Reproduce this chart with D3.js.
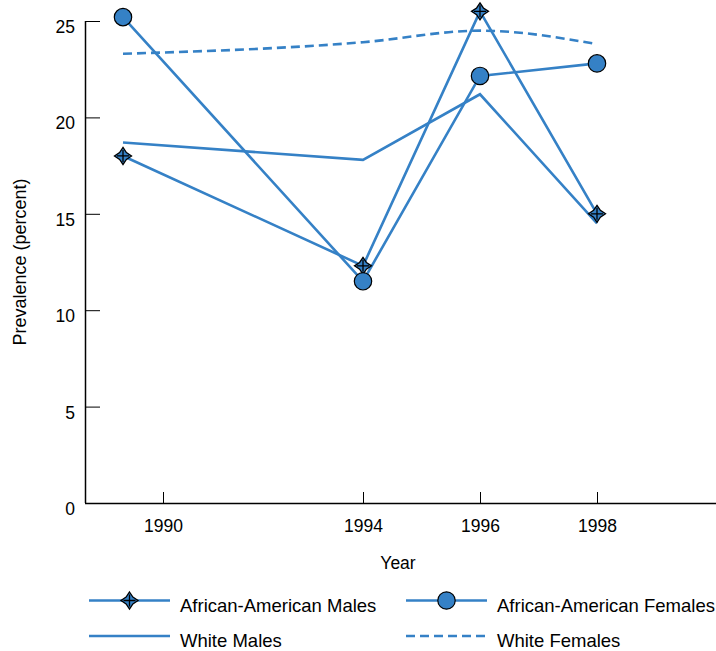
<!DOCTYPE html>
<html>
<head>
<meta charset="utf-8">
<script src="https://cdn.jsdelivr.net/npm/d3@7"></script>
<style>
  html, body { margin: 0; padding: 0; background: #fff; }
  svg { display: block; font-family: "Liberation Sans", Arial, sans-serif; }
</style>
</head>
<body>
<svg id="chart" width="716" height="651"></svg>
<script>
// ---- data ----
const years = [1990, 1994, 1996, 1998];
const xTickYears = [1990, 1994, 1996, 1998];
const yTicks = [0, 5, 10, 15, 20, 25];
const aaMales = [18.0, 12.3, 25.5, 15.0];
const aaFemales = [25.2, 11.5, 22.15, 22.8];
const whiteMales = [18.7, 17.8, 21.2, 14.5];
const whiteFemales = [23.3, 23.9, 24.5, 23.8];
const seriesNames = ["African-American Males", "African-American Females", "White Males", "White Females"];

(function () {
const color = "#3581c6";
const svg = d3.select("#chart");
const mLeft = 85, mRight = 716, mTop = 21, mBottom = 503;

// y scale
const y = d3.scaleLinear().domain([0, 25]).range([mBottom, mTop]);
// x scales: data positions and axis tick positions (the axis tick for 1990 sits right of the first point)
const x = d3.scaleLinear().domain([1990, 1994, 1998]).range([123, 363, 597]);
const xAxisScale = d3.scaleLinear().domain([1990, 1994, 1998]).range([163, 363, 597]);

// ---- axes ----
const yAxis = d3.axisLeft(y).tickValues(yTicks).tickSizeInner(-15).tickSizeOuter(0).tickPadding(10)
  .tickFormat(d3.format("d"));
const gy = svg.append("g").attr("transform", `translate(${mLeft},0)`).call(yAxis);
gy.select(".domain").remove();
gy.selectAll(".tick line").attr("stroke", "#000").attr("stroke-width", 1);
gy.selectAll("text").attr("font-size", 17.5).attr("fill", "#000").attr("dy", "0.66em")
  .attr("font-family", "Liberation Sans, Arial, sans-serif");

const xAxis = d3.axisBottom(xAxisScale).tickValues(xTickYears).tickSizeInner(-11).tickSizeOuter(0).tickPadding(17)
  .tickFormat(d3.format("d"));
const gx = svg.append("g").attr("transform", `translate(0,${mBottom})`).call(xAxis);
gx.select(".domain").remove();
gx.selectAll(".tick line").attr("stroke", "#000").attr("stroke-width", 1);
gx.selectAll("text").attr("font-size", 17.5).attr("fill", "#000")
  .attr("font-family", "Liberation Sans, Arial, sans-serif");

// axis lines
svg.append("line").attr("x1", mLeft + 0.5).attr("x2", mLeft + 0.5).attr("y1", y(25)).attr("y2", y(0))
  .attr("stroke", "#000").attr("stroke-width", 1.5);
svg.append("line").attr("x1", mLeft).attr("x2", mRight).attr("y1", y(0) + 0.5).attr("y2", y(0) + 0.5)
  .attr("stroke", "#000").attr("stroke-width", 1.5);

// axis titles
svg.append("text").attr("x", 398).attr("y", 569).attr("text-anchor", "middle")
  .attr("font-size", 17.5).text("Year");
svg.append("text").attr("transform", `translate(26,${(y(25) + y(0)) / 2}) rotate(-90)`)
  .attr("text-anchor", "middle").attr("font-size", 18).text("Prevalence (percent)");

// ---- lines ----
const lineStraight = d3.line().x((d, i) => x(years[i])).y(d => y(d));
const lineCurve = d3.line().x((d, i) => x(years[i])).y(d => y(d)).curve(d3.curveMonotoneX);

const series = [
  { name: seriesNames[0], values: aaMales, marker: "star", dash: null, gen: lineStraight },
  { name: seriesNames[1], values: aaFemales, marker: "circle", dash: null, gen: lineStraight },
  { name: seriesNames[2], values: whiteMales, marker: null, dash: null, gen: lineStraight },
  { name: seriesNames[3], values: whiteFemales, marker: null, dash: "9,5", gen: lineCurve }
];

series.forEach(s => {
  svg.append("path").attr("d", s.gen(s.values)).attr("fill", "none")
    .attr("stroke", color).attr("stroke-width", 2.6)
    .attr("stroke-dasharray", s.dash);
});

function starPath(R, r) {
  return `M0,${-R} L${r},${-r} L${R},0 L${r},${r} L0,${R} L${-r},${r} L${-R},0 L${-r},${-r} Z`;
}
function drawMarker(g, type, cx, cy) {
  if (type === "circle") {
    g.append("circle").attr("cx", cx).attr("cy", cy).attr("r", 8.7)
      .attr("fill", color).attr("stroke", "#000").attr("stroke-width", 1.2);
  } else if (type === "star") {
    const m = g.append("g").attr("transform", `translate(${cx},${cy})`);
    m.append("path").attr("d", starPath(8.5, 3.4)).attr("fill", color)
      .attr("stroke", "#000").attr("stroke-width", 1.3).attr("stroke-linejoin", "miter");
    m.append("path").attr("d", "M-6,0H6M0,-6V6").attr("stroke", "#000").attr("stroke-width", 1.3);
  }
}

series.forEach(s => {
  if (!s.marker) return;
  s.values.forEach((v, i) => drawMarker(svg, s.marker, x(years[i]), y(v)));
});

// ---- legend ----
const legendCols = [{ x1: 89, x2: 170 }, { x1: 406, x2: 487 }];
const legendRows = [600.5, 636];
const legendOrder = [0, 1, 2, 3];
legendOrder.forEach((si, k) => {
  const s = series[si];
  const col = legendCols[k % 2], row = legendRows[Math.floor(k / 2)];
  const g = svg.append("g");
  g.append("line").attr("x1", col.x1).attr("x2", col.x2).attr("y1", row).attr("y2", row)
    .attr("stroke", color).attr("stroke-width", 2.6).attr("stroke-dasharray", s.dash);
  if (s.marker) drawMarker(g, s.marker, (col.x1 + col.x2) / 2, row);
  g.append("text").attr("x", col.x2 + 10).attr("y", row + 11).attr("font-size", 18.5).text(s.name);
});
})();
</script>
</body>
</html>
